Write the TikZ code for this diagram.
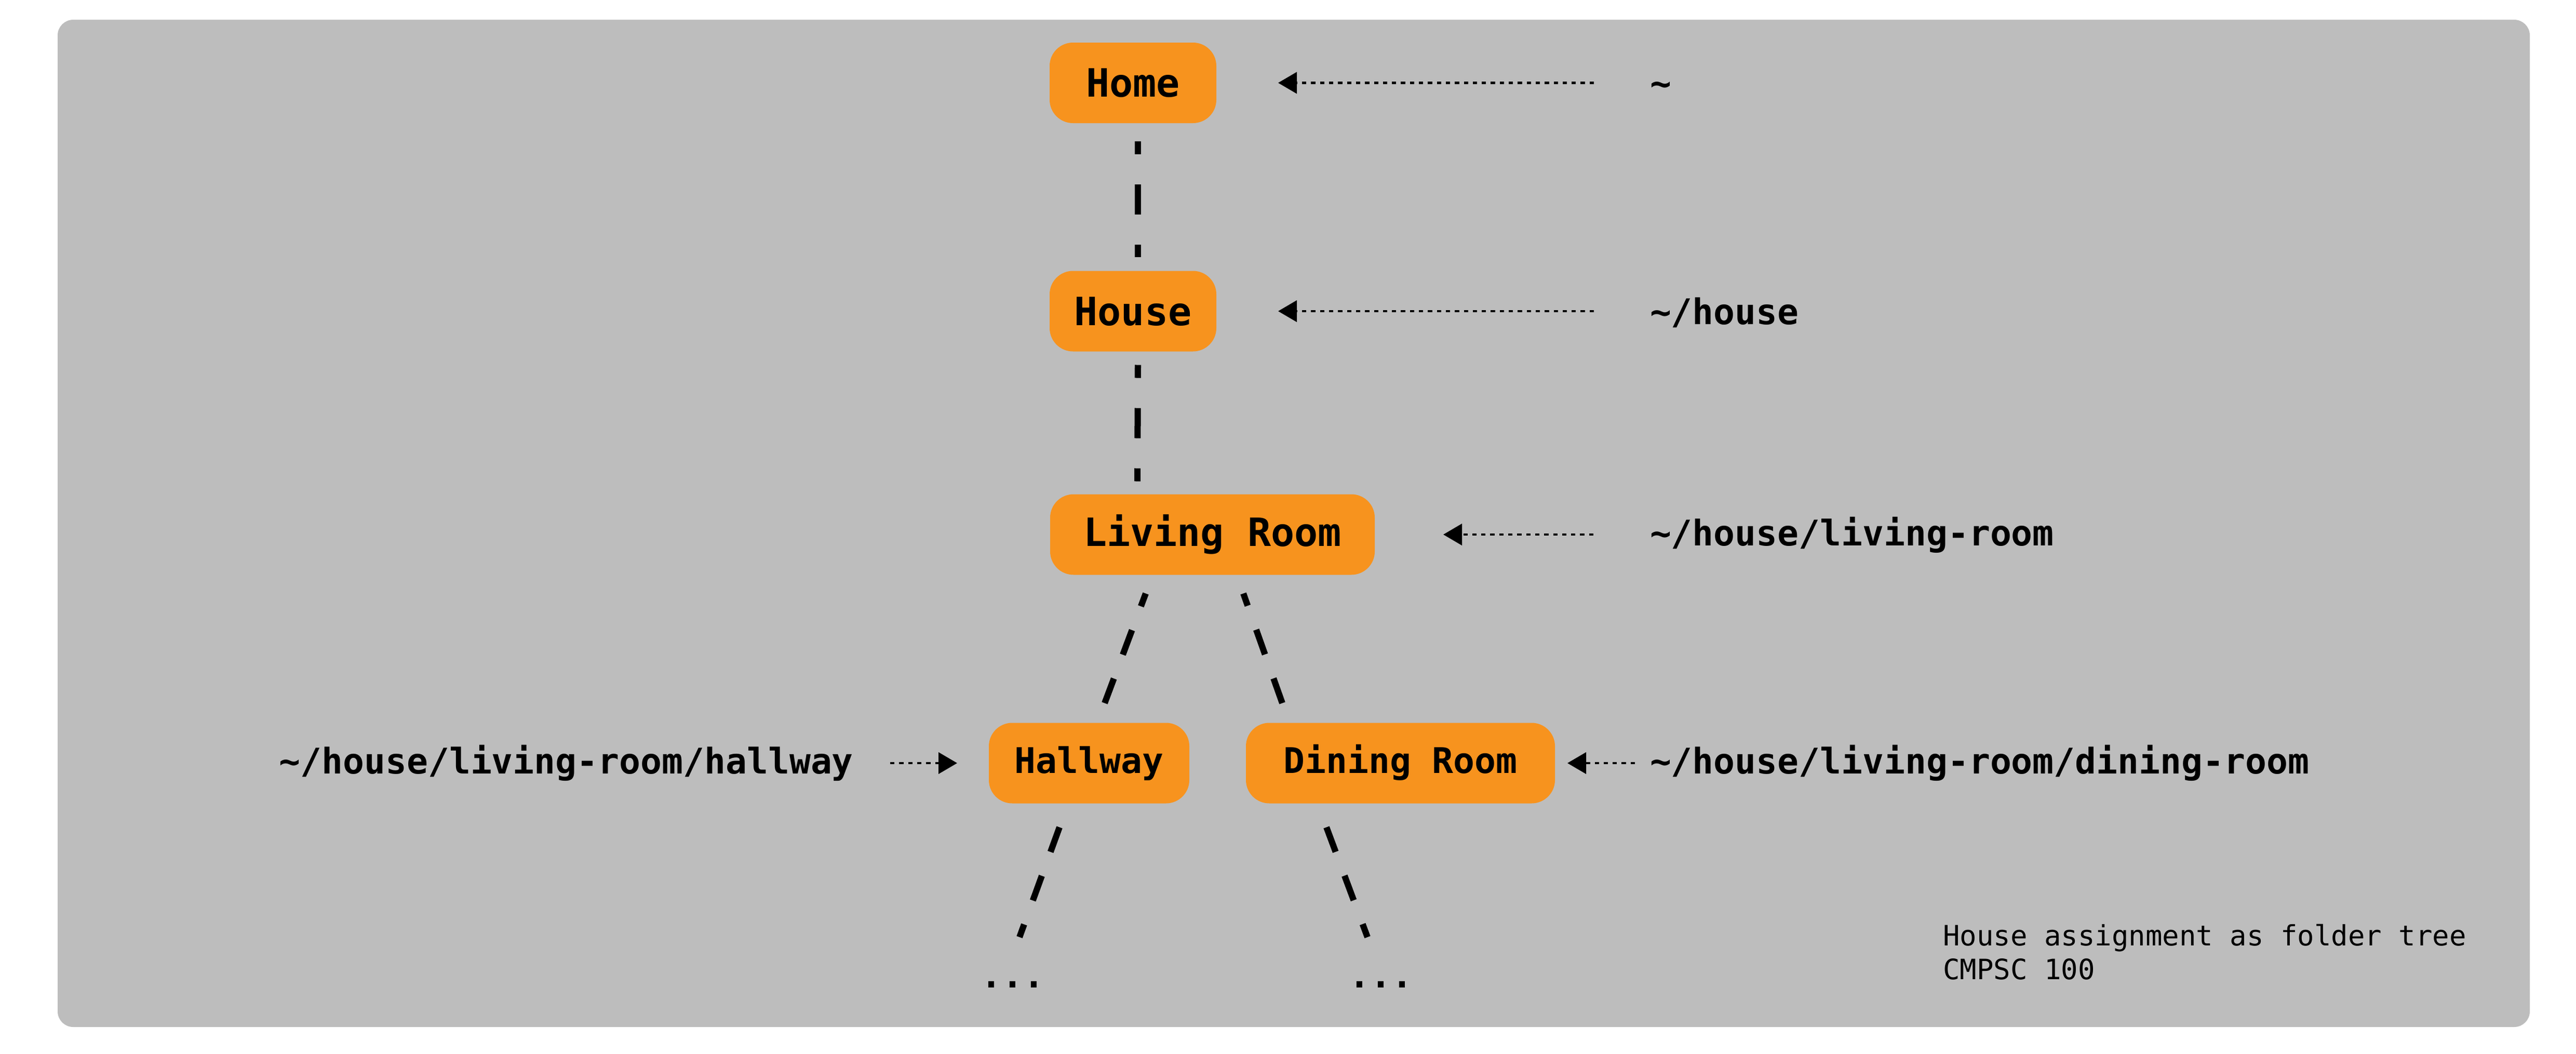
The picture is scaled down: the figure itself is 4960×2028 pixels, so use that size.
\documentclass[tikz,border=0pt]{standalone}
\usepackage{fontspec}
\newfontfamily\dvm{DejaVu Sans Mono}
\usetikzlibrary{calc,arrows.meta}
\definecolor{bggray}{RGB}{189,189,189}
\definecolor{boxorange}{RGB}{247,147,30}
\tikzset{
  box/.style={fill=boxorange, rounded corners=9pt, inner sep=0pt, minimum height=31pt,
    text depth=0pt, align=center},
  bigtxt/.style={font=\dvm\bfseries\fontsize{15pt}{18pt}\selectfont, text height=10.9pt},
  smalltxt/.style={font=\dvm\bfseries\fontsize{13.6pt}{16pt}\selectfont, text height=9.9pt},
  desc/.style={text depth=2pt},
  pathlabel/.style={inner sep=0pt, font=\dvm\bfseries\fontsize{13.6pt}{16pt}\selectfont},
  caption/.style={inner sep=0pt, anchor=base west, font=\dvm\fontsize{10.8pt}{13pt}\selectfont},
  treeline/.style={line width=2.4pt, dash pattern=on 11.6pt off 11.6pt, dash phase=6.6pt},
  diagline/.style={line width=2.4pt, dash pattern=on 10.1pt off 9.8pt},
  dotarrow/.style={line width=0.87pt, dash pattern=on 1.66pt off 1.8pt,
    -{Triangle[length=7.2pt,width=8.2pt]}},
}
\begin{document}
\begin{tikzpicture}[x=0.2pt,y=-0.2pt]
\useasboundingbox (0,0) rectangle (4960,2028);
\fill[bggray, rounded corners=6pt] (111,38) rectangle (4871,1977);

% folder nodes
\node[box, bigtxt, minimum width=64.2pt] (home) at (2181.5,159.5) {Home};
\node[box, bigtxt, minimum width=64.2pt] (house) at (2181.5,599) {House};
\node[box, bigtxt, desc, minimum width=125pt] (lr) at (2334.5,1029) {Living Room};
\node[box, smalltxt, desc, minimum width=77.2pt] (hallway) at (2097,1469) {Hallway};
\node[box, smalltxt, desc, minimum width=119pt] (dining) at (2696.5,1469) {Dining Room};
\node[pathlabel, anchor=base] (dots1) at (1950,1901) {...};
\node[pathlabel, anchor=base] (dots2) at (2659,1901) {...};

% path labels
\node[pathlabel, anchor=base west] (homelab) at (3176,184.5) {\string~};
\node[pathlabel, anchor=base west] (houselab) at (3176,624) {\string~/house};
\node[pathlabel, anchor=base west] (lrlab) at (3176,1050) {\string~/house/living-room};
\node[pathlabel, anchor=base east] (hwlab) at (1644,1489) {\string~/house/living-room/hallway};
\node[pathlabel, anchor=base west] (dinlab) at (3176,1489) {\string~/house/living-room/dining-room};

% caption
\node[caption] (cap1) at (3740,1820) {House assignment as folder tree};
\node[caption] (cap2) at (3740,1885) {CMPSC 100};

% tree connectors
\draw[treeline] ($(home.south)+(9.5,34)$) -- ($(house.north)+(9.5,-26)$);
\draw[treeline] ($(house.south)+(9.5,25)$) -- ($(lr.north)+(-144.5,-24)$);
\draw[diagline] ($(hallway.north)+(30,-37)$) -- ($(lr.south)+(-128.5,35)$);
\draw[diagline] ($(dining.north)+(-227.5,-37)$) -- ($(lr.south)+(59.5,35)$);
\draw[diagline] ($(hallway.south)+(-57,45)$) -- ($(dots1.base)+(13,-97)$);
\draw[diagline] ($(dining.south)+(-142.5,45)$) -- ($(dots2.base)+(-26,-97)$);

% label arrows
\draw[dotarrow] ($(homelab.west |- home.east)+(-107,0)$) -- ($(home.east)+(118,0)$);
\draw[dotarrow] ($(houselab.west |- house.east)+(-107,0)$) -- ($(house.east)+(118,0)$);
\draw[dotarrow] ($(lrlab.west |- lr.east)+(-108,0)$) -- ($(lr.east)+(131,0)$);
\draw[dotarrow] ($(hwlab.east |- hallway.west)+(70,0)$) -- ($(hallway.west)+(-60,0)$);
\draw[dotarrow] ($(dinlab.west |- dining.east)+(-28,0)$) -- ($(dining.east)+(23,0)$);
\end{tikzpicture}
\end{document}
